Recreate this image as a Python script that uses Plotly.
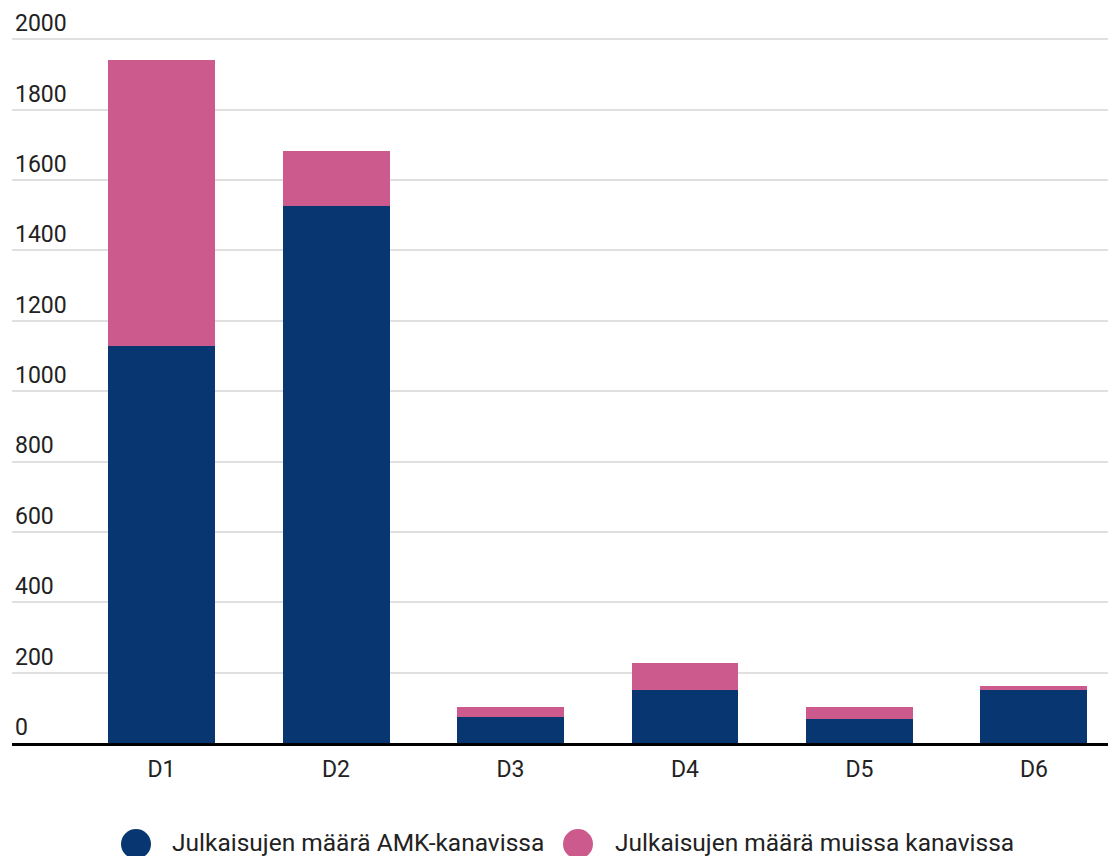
import plotly.graph_objects as go

categories = ["D1", "D2", "D3", "D4", "D5", "D6"]
amk_values = [1128, 1526, 75, 152, 67, 152]
other_values = [814, 157, 28, 75, 36, 11]
series_names = ["Julkaisujen määrä AMK-kanavissa", "Julkaisujen määrä muissa kanavissa"]
y_ticks = [0, 200, 400, 600, 800, 1000, 1200, 1400, 1600, 1800, 2000]

BLUE = "#083670"
PINK = "#cd5a8d"
FONT = "Roboto"
TXT = "#222222"

W, H = 1116, 856
ML, MR, MT, MB = 4, 0, 0, 121

fig = go.Figure()
fig.add_trace(go.Bar(x=categories, y=amk_values, name=series_names[0],
                     marker=dict(color=BLUE, line=dict(width=0)), width=0.613))
fig.add_trace(go.Bar(x=categories, y=other_values, name=series_names[1],
                     marker=dict(color=PINK, line=dict(width=0)), width=0.613))

fig.update_layout(
    width=W, height=H,
    barmode="stack",
    showlegend=False,
    plot_bgcolor="white", paper_bgcolor="white",
    margin=dict(l=ML, r=MR, t=MT, b=MB),
    font=dict(family=FONT, size=22, color=TXT),
    xaxis=dict(range=[-0.857, 5.516], showgrid=False, showline=True,
               linecolor="black", linewidth=3, ticks="", ticklabelstandoff=3,
               tickfont=dict(size=23, color=TXT), fixedrange=True),
    yaxis=dict(range=[0, 2089], tickvals=y_ticks, showgrid=True,
               gridcolor="#e0e0e0", gridwidth=2, zeroline=False,
               ticklabelposition="inside top", ticks="",
               tickfont=dict(size=23, color=TXT), fixedrange=True),
)

# custom legend with large circle markers
plot_w = W - ML - MR
plot_h = H - MT - MB
def px_x(p):
    return (p - ML) / plot_w
def px_y(p):
    return (H - MB - p) / plot_h

legend_y = 836
items = [(128, 162, BLUE, series_names[0]), (570, 605, PINK, series_names[1])]
for cx, tx, col, name in items:
    fig.add_shape(type="circle", xref="paper", yref="paper",
                  xsizemode="pixel", ysizemode="pixel",
                  xanchor=px_x(cx), yanchor=px_y(legend_y),
                  x0=-15, x1=15, y0=-15, y1=15,
                  fillcolor=col, line=dict(width=0))
    fig.add_annotation(xref="paper", yref="paper", x=px_x(tx), y=px_y(legend_y - 2),
                       xanchor="left", yanchor="middle", showarrow=False,
                       text=name, font=dict(size=24.5, color=TXT, family=FONT))

fig.write_html("out.html")
